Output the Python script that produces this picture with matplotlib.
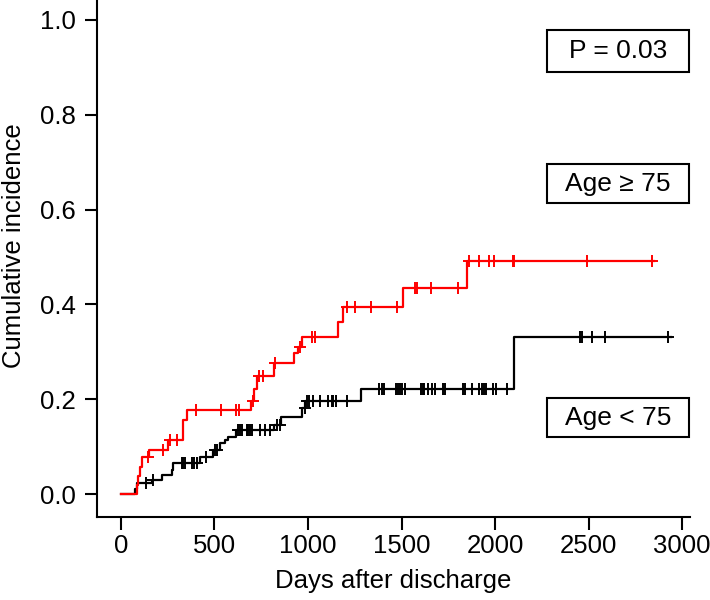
import numpy as np
import matplotlib
matplotlib.use("Agg")
from matplotlib import pyplot as plt
from matplotlib.patches import Rectangle

plt.rcParams['font.family'] = ['Liberation Sans', 'DejaVu Sans']

# Age >= 75 (red)
old_t = [0, 84, 92, 103, 115, 151, 250, 330, 355, 693, 712, 728, 818, 925, 945, 966,
         1162, 1189, 1510, 1850, 2850]
old_y = [0, 0.019, 0.038, 0.058, 0.078, 0.094, 0.115, 0.156, 0.177, 0.196, 0.221, 0.250,
         0.276, 0.297, 0.310, 0.331, 0.364, 0.394, 0.434, 0.492, 0.492]
old_cens = [146, 225, 262, 298, 401, 533, 615, 633, 705, 740, 757, 824, 957, 1020, 1037,
            1207, 1251, 1335, 1474, 1572, 1584, 1656, 1800, 1862, 1916, 1969, 1996,
            2094, 2103, 2494, 2838]

# Age < 75 (black)
young_t = [0, 75, 85, 164, 217, 271, 280, 422, 493, 529, 556, 573, 615, 820, 858, 970, 985,
           1282, 2100, 2940]
young_y = [0, 0.011, 0.023, 0.030, 0.040, 0.051, 0.066, 0.079, 0.093, 0.107, 0.114, 0.121,
           0.135, 0.146, 0.162, 0.181, 0.197, 0.221, 0.332, 0.332]
young_cens = [132, 173, 324, 333, 342, 378, 390, 405, 455, 503, 515, 627, 636, 645, 672,
              681, 690, 699, 743, 770, 797, 832, 850, 984, 993, 1007, 1029, 1064, 1109,
              1127, 1136, 1150, 1210, 1381, 1394, 1406, 1471, 1483, 1492, 1501, 1519,
              1603, 1613, 1620, 1643, 1661, 1679, 1724, 1733, 1827, 1840, 1876, 1916,
              1929, 1941, 1952, 1991, 2005, 2066, 2455, 2464, 2520, 2588, 2927]

def step_at(t, y, pts):
    idx = np.searchsorted(t, pts, side='right') - 1
    return np.array(y)[idx]

fig = plt.figure(figsize=(7.1, 6.0), dpi=100)
ax = fig.add_axes([0.1366, 0.138, 0.972 - 0.1366, 0.862])

ax.plot(young_t, young_y, drawstyle='steps-post', color='black', lw=1.6)
ax.plot(young_cens, step_at(young_t, young_y, young_cens), '+', color='black', ms=9, mew=1.4)
ax.plot(old_t, old_y, drawstyle='steps-post', color='#ff0000', lw=1.6)
ax.plot(old_cens, step_at(old_t, old_y, old_cens), '+', color='#ff0000', ms=9, mew=1.4)

ax.set_xlim(-128, 3043)
ax.set_ylim(-0.0485, 1.042)
ax.set_xticks(range(0, 3001, 500))
ax.set_yticks([0, 0.2, 0.4, 0.6, 0.8, 1.0])
ax.set_yticklabels(['0.0', '0.2', '0.4', '0.6', '0.8', '1.0'])
for s in ['top', 'right']:
    ax.spines[s].set_visible(False)
for s in ['left', 'bottom']:
    ax.spines[s].set_linewidth(1.5)
ax.tick_params(axis='both', labelsize=18.5, length=9, width=1.5)
ax.tick_params(axis='y', pad=6)
ax.tick_params(axis='x', pad=3)
ax.set_xlabel('Days after discharge', fontsize=18.5, labelpad=8)
ax.set_ylabel('Cumulative incidence', fontsize=18.5)
ax.yaxis.set_label_coords(-0.119, 0.526)

boxes = [('P = 0.03', 0.890, 0.979), ('Age \u2265 75', 0.614, 0.696), ('Age < 75', 0.120, 0.203)]
for label, y0, y1 in boxes:
    ax.add_patch(Rectangle((2278, y0), 3037 - 2278, y1 - y0, fill=False, lw=1.5,
                           edgecolor='black', clip_on=False))
    ax.text((2278 + 3037) / 2, (y0 + y1) / 2, label, fontsize=19, ha='center', va='center')

fig.savefig('out.png', dpi=100)
